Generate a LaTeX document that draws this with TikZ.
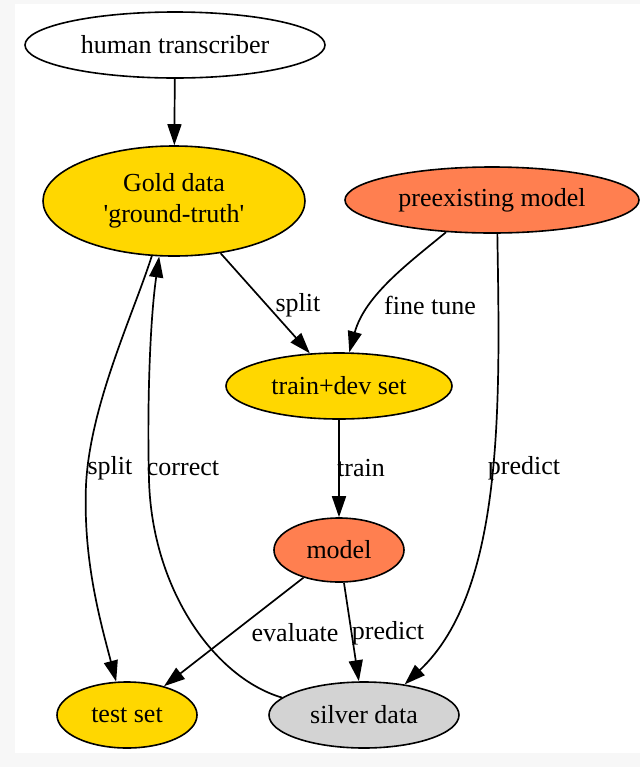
\documentclass[tikz,border=0pt]{standalone}
\usepackage{fontspec}
\setmainfont{Liberation Serif}[Ligatures=TeXOff]
\usetikzlibrary{shapes.geometric,arrows.meta}
\definecolor{goldc}{HTML}{FFD700}
\definecolor{coralc}{HTML}{FF7F50}
\definecolor{silverc}{HTML}{D3D3D3}
\definecolor{bgc}{HTML}{F7F7F7}
\begin{document}
\begin{tikzpicture}[x=0.5pt,y=-0.5pt,
  every node/.style={font=\fontsize{13}{15.5}\selectfont},
  ell/.style={ellipse,draw,line width=0.8pt,inner sep=0pt,align=center},
  edge/.style={draw,line width=0.85pt,-{Triangle[length=10.5pt,width=7pt]}},
  lbl/.style={inner sep=0pt}]
\fill[bgc] (0,0) rectangle (640,767);
\fill[white] (15,4) rectangle (640,753);
\useasboundingbox (0,0) rectangle (640,767);

\node[ell,minimum width=150pt,minimum height=33pt] (ht) at (175,45) {human transcriber};
\node[ell,fill=goldc,minimum width=131pt,minimum height=55pt] (gold) at (174,201) {Gold data\\'ground-truth'};
\node[ell,fill=coralc,minimum width=147pt,minimum height=33pt] (pre) at (492,200) {preexisting model};
\node[ell,fill=goldc,minimum width=113pt,minimum height=33pt] (td) at (339,386) {train+dev set};
\node[ell,fill=coralc,minimum width=65pt,minimum height=32pt] (model) at (339,550) {model};
\node[ell,fill=goldc,minimum width=70pt,minimum height=33pt] (test) at (127,715) {test set};
\node[ell,fill=silverc,minimum width=95pt,minimum height=33pt] (silver) at (364,715) {silver data};

\coordinate (sp) at (86,485);
\coordinate (cp) at (149,480);

\draw[edge] (ht) -- (gold);
\draw[edge] (gold) -- (td) node[lbl] (l1) at (298,305) {split};
\draw[edge] (pre.-145) .. controls (410,262) and (365,295) .. (td.73) node[lbl] (l2) at (430,305) {fine tune};
\draw[edge] (pre.-81) .. controls (500,400) and (505,590) .. (silver.37) node[lbl] (l3) at (524,468) {predict};
\draw[edge] (td) -- (model) node[lbl] (l4) at (361,468) {train};
\draw[edge] (gold.-112.7) .. controls (133,315) and (90,405) .. (sp)
  .. controls (83,560) and (100,620) .. (test.108) node[lbl] (l5) at (110,468) {split};
\draw[edge] (silver.168.6) .. controls (215,678) and (152,590) .. (cp)
  .. controls (147,405) and (150,320) .. (gold.-105) node[lbl] (l6) at (183,468) {correct};
\draw[edge] (model) -- (test) node[lbl] (l7) at (295,633) {evaluate};
\draw[edge] (model) -- (silver) node[lbl] (l8) at (388,633) {predict};
\end{tikzpicture}
\end{document}
